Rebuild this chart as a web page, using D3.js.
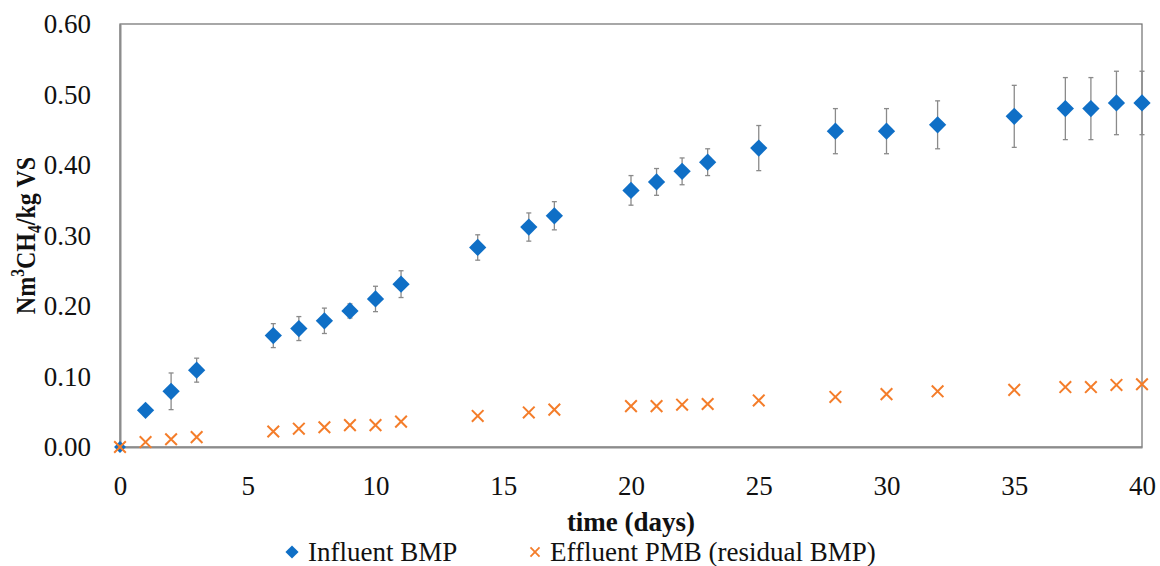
<!DOCTYPE html>
<html>
<head>
<meta charset="utf-8">
<script src="https://cdn.jsdelivr.net/npm/d3@7"></script>
<style>
  body { margin: 0; background: #fff; }
  svg { font-family: "Palatino Linotype", "Book Antiqua", Palatino, "Liberation Serif", serif; }
</style>
</head>
<body>
<svg id="chart"></svg>
<script>
// days of measurement
var days = [0, 1, 2, 3, 6, 7, 8, 9, 10, 11, 14, 16, 17, 20, 21, 22, 23, 25, 28, 30, 32, 35, 37, 38, 39, 40];
// Influent BMP (Nm3 CH4 / kg VS) and its error
var influent = [0.000, 0.052, 0.079, 0.109, 0.158, 0.168, 0.179, 0.193, 0.210, 0.231, 0.283, 0.312, 0.328, 0.364, 0.376, 0.391, 0.404, 0.424, 0.448, 0.448, 0.457, 0.469, 0.480, 0.480, 0.488, 0.488];
var influentErr = [0.000, 0.000, 0.026, 0.017, 0.017, 0.017, 0.018, 0.010, 0.018, 0.019, 0.018, 0.020, 0.020, 0.021, 0.019, 0.019, 0.019, 0.032, 0.032, 0.032, 0.034, 0.044, 0.044, 0.044, 0.045, 0.045];
// Effluent PMB (residual BMP)
var effluent = [0.000, 0.007, 0.011, 0.014, 0.022, 0.026, 0.028, 0.031, 0.031, 0.036, 0.044, 0.049, 0.053, 0.058, 0.058, 0.060, 0.061, 0.066, 0.071, 0.075, 0.079, 0.081, 0.085, 0.085, 0.088, 0.089];

var xTicks = [0, 5, 10, 15, 20, 25, 30, 35, 40];
var yTicks = [0, 0.1, 0.2, 0.3, 0.4, 0.5, 0.6];

var blue = "#0F6FC6";
var orange = "#F47D2A";

var svgWidth = 1160;
var svgHeight = 566;
var margin = { top: 24, right: 18, bottom: 119, left: 120 };
var chartWidth = svgWidth - margin.left - margin.right;
var chartHeight = svgHeight - margin.top - margin.bottom;

var svg = d3.select("#chart")
  .attr("width", svgWidth)
  .attr("height", svgHeight);

var chart = svg.append("g")
  .attr("transform", "translate(" + margin.left + "," + margin.top + ")");

var xScale = d3.scaleLinear().domain([0, 40]).range([0, chartWidth]);
var yScale = d3.scaleLinear().domain([0, 0.6]).range([chartHeight, 0]);

// plot border (top / right)
chart.append("rect")
  .attr("width", chartWidth)
  .attr("height", chartHeight)
  .attr("fill", "none")
  .attr("stroke", "#6e6e6e")
  .attr("stroke-width", 1.2);

// y axis
var yAxis = chart.append("g")
  .attr("class", "axis")
  .call(d3.axisLeft(yScale).tickValues(yTicks).tickSize(0).tickPadding(29).tickFormat(d3.format(".2f")));
yAxis.attr("font-family", null).attr("font-size", 27);
yAxis.select(".domain").attr("stroke", "#8c8c8c").attr("stroke-width", 2);
yAxis.selectAll("text").attr("fill", "#111");

// x axis
var xAxis = chart.append("g")
  .attr("class", "axis")
  .attr("transform", "translate(0," + chartHeight + ")")
  .call(d3.axisBottom(xScale).tickValues(xTicks).tickSize(0).tickPadding(29));
xAxis.attr("font-family", null).attr("font-size", 27);
xAxis.select(".domain").attr("stroke", "#8c8c8c").attr("stroke-width", 2);
xAxis.selectAll("text").attr("fill", "#111");

// axis titles
chart.append("text")
  .attr("x", xScale(20))
  .attr("y", chartHeight + 84)
  .attr("text-anchor", "middle")
  .attr("font-size", 27)
  .attr("font-weight", "bold")
  .attr("fill", "#111")
  .text("time (days)");

var yTitle = svg.append("text")
  .attr("transform", "translate(35," + (margin.top + yScale(0.3)) + ") rotate(-90) scale(0.86,1)")
  .attr("text-anchor", "middle")
  .attr("font-size", 28)
  .attr("font-weight", "bold")
  .attr("fill", "#111");
yTitle.append("tspan").text("Nm");
yTitle.append("tspan").attr("font-size", 18).attr("dy", -11).text("3");
yTitle.append("tspan").attr("dy", 11).text("CH");
yTitle.append("tspan").attr("font-size", 18).attr("dy", 6).text("4");
yTitle.append("tspan").attr("dy", -6).text("/kg VS");

var points = days.map(function (d, i) {
  return { day: d, inf: influent[i], err: influentErr[i], eff: effluent[i] };
});

// error bars
var eb = chart.selectAll(".errbar")
  .data(points.filter(function (d) { return d.err > 0; }))
  .enter().append("g")
  .attr("class", "errbar")
  .attr("stroke", "#8a8a8a")
  .attr("stroke-width", 1.3);
eb.append("line")
  .attr("x1", function (d) { return xScale(d.day); })
  .attr("x2", function (d) { return xScale(d.day); })
  .attr("y1", function (d) { return yScale(d.inf + d.err); })
  .attr("y2", function (d) { return yScale(d.inf - d.err); });
eb.selectAll(".cap")
  .data(function (d) { return [[d.day, d.inf + d.err], [d.day, d.inf - d.err]]; })
  .enter().append("line")
  .attr("x1", function (d) { return xScale(d[0]) - 2.5; })
  .attr("x2", function (d) { return xScale(d[0]) + 2.5; })
  .attr("y1", function (d) { return yScale(d[1]); })
  .attr("y2", function (d) { return yScale(d[1]); });

// diamonds
var diamond = d3.symbol().type(d3.symbolDiamond2).size(190);
chart.selectAll(".inf")
  .data(points)
  .enter().append("path")
  .attr("class", "inf")
  .attr("d", function (d) { return d.day === 0 ? d3.symbol().type(d3.symbolDiamond2).size(90)() : diamond(); })
  .attr("transform", function (d) { return "translate(" + xScale(d.day) + "," + yScale(d.inf) + ")"; })
  .attr("fill", blue);

// crosses
var cross = d3.symbol().type(d3.symbolX).size(90);
chart.selectAll(".eff")
  .data(points)
  .enter().append("path")
  .attr("class", "eff")
  .attr("d", cross)
  .attr("transform", function (d) { return "translate(" + xScale(d.day) + "," + yScale(d.eff) + ")"; })
  .attr("fill", "none")
  .attr("stroke", orange)
  .attr("stroke-width", 2);

// legend
var legend = svg.append("g").attr("transform", "translate(0,552)");
legend.append("path")
  .attr("d", d3.symbol().type(d3.symbolDiamond2).size(110)())
  .attr("transform", "translate(292,0)")
  .attr("fill", blue);
legend.append("text")
  .attr("x", 308).attr("y", 9)
  .attr("font-size", 27).attr("fill", "#111")
  .text("Influent BMP");
legend.append("path")
  .attr("d", d3.symbol().type(d3.symbolX).size(55)())
  .attr("transform", "translate(535,0)")
  .attr("fill", "none")
  .attr("stroke", orange)
  .attr("stroke-width", 1.8);
legend.append("text")
  .attr("x", 550).attr("y", 9)
  .attr("font-size", 27).attr("fill", "#111")
  .text("Effluent PMB (residual BMP)");
</script>
</body>
</html>
